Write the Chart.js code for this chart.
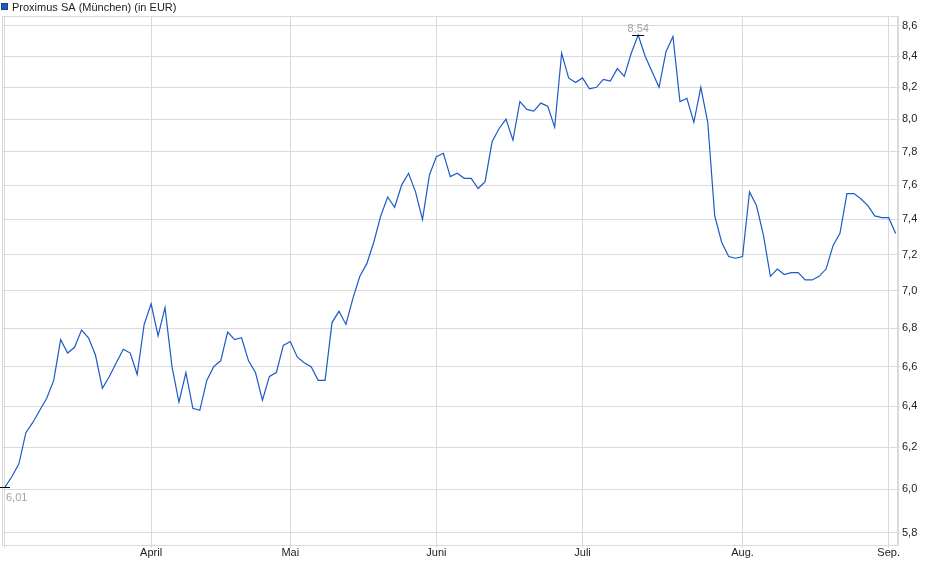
<!DOCTYPE html>
<html>
<head>
<meta charset="utf-8">
<script src="https://cdn.jsdelivr.net/npm/chart.js@4.4.1/dist/chart.umd.min.js"></script>
<style>
    html, body { margin: 0; padding: 0; background: #fff; }
    #wrap { width: 940px; height: 579px; }
</style>
</head>
<body>
<div id="wrap"><canvas id="kursChart" width="940" height="579"></canvas></div>
<script>
// Daten (Handelstage ab Anfang März bis Anfang September)
const serienName = 'Proximus SA (München) (in EUR)';
const kurse = [
    6.01, 6.06, 6.12, 6.27, 6.32, 6.38, 6.44, 6.53, 6.74, 6.67,
    6.70, 6.79, 6.75, 6.66, 6.49, 6.55, 6.62, 6.69, 6.67, 6.56,
    6.82, 6.93, 6.76, 6.91, 6.60, 6.42, 6.57, 6.39, 6.38, 6.53,
    6.60, 6.63, 6.78, 6.74, 6.75, 6.63, 6.57, 6.43, 6.55, 6.57,
    6.71, 6.73, 6.65, 6.62, 6.60, 6.53, 6.53, 6.83, 6.89, 6.82,
    6.96, 7.08, 7.15, 7.27, 7.42, 7.53, 7.47, 7.60, 7.67, 7.56,
    7.40, 7.66, 7.77, 7.79, 7.65, 7.67, 7.64, 7.64, 7.58, 7.62,
    7.86, 7.94, 8.00, 7.87, 8.11, 8.06, 8.05, 8.10, 8.08, 7.95,
    8.42, 8.26, 8.23, 8.26, 8.19, 8.20, 8.25, 8.24, 8.32, 8.27,
    8.42, 8.54, 8.40, 8.30, 8.20, 8.43, 8.53, 8.11, 8.13, 7.98,
    8.20, 7.98, 7.42, 7.27, 7.19, 7.18, 7.19, 7.56, 7.48, 7.31,
    7.08, 7.12, 7.09, 7.10, 7.10, 7.06, 7.06, 7.08, 7.12, 7.25,
    7.32, 7.55, 7.55, 7.52, 7.48, 7.42, 7.41, 7.41, 7.32
];
// Index des ersten Handelstages je Monat
const monatsIndex = [0, 21, 41, 62, 83, 106, 127];
const monatsLabels = ['', 'April', 'Mai', 'Juni', 'Juli', 'Aug.', 'Sep.'];
const yTicks = [5.8, 6.0, 6.2, 6.4, 6.6, 6.8, 7.0, 7.2, 7.4, 7.6, 7.8, 8.0, 8.2, 8.4, 8.6];

const gitterFarbe = '#dadada';
const linienFarbe = '#1c5ac8';
const schrift = '"Liberation Sans", Arial, sans-serif';

function formatKurs(v, stellen) {
    return v.toFixed(stellen).replace('.', ',');
}

// Rahmen, Legende und Hoch/Tief-Markierungen
const extrasPlugin = {
    id: 'extras',
    beforeDraw(chart) {
        const c = chart.ctx;
        c.save();
        c.fillStyle = '#fff';
        c.fillRect(0, 0, chart.width, chart.height);
        c.restore();
    },
    afterDraw(chart) {
        const c = chart.ctx;
        const a = chart.chartArea;
        const xs = chart.scales.x;
        const ys = chart.scales.y;
        c.save();
        // Rahmen
        c.strokeStyle = gitterFarbe;
        c.lineWidth = 1;
        c.strokeRect(Math.round(a.left) + 0.5, Math.round(a.top) + 0.5,
            Math.round(a.right - a.left) - 1, Math.round(a.bottom - a.top));

        // Legende
        c.fillStyle = '#1a5ac6';
        c.fillRect(1, 3, 7, 7);
        c.strokeStyle = '#1b3f86';
        c.strokeRect(1.5, 3.5, 6, 6);
        c.fillStyle = '#222';
        c.font = '11px ' + schrift;
        c.textBaseline = 'alphabetic';
        c.textAlign = 'left';
        c.fillText(serienName, 12, 10.5);

        // Hoch und Tief
        let iMax = 0, iMin = 0;
        kurse.forEach((v, i) => {
            if (v > kurse[iMax]) iMax = i;
            if (v < kurse[iMin]) iMin = i;
        });
        c.strokeStyle = '#000';
        c.fillStyle = '#a3a3a3';
        c.font = '11px ' + schrift;

        const xH = xs.getPixelForValue(iMax);
        const yH = Math.round(ys.getPixelForValue(kurse[iMax])) + 0.5;
        c.beginPath();
        c.moveTo(xH - 6, yH);
        c.lineTo(xH + 6, yH);
        c.stroke();
        c.textAlign = 'center';
        c.fillText(formatKurs(kurse[iMax], 2), xH, yH - 4);

        const xT = xs.getPixelForValue(iMin);
        const yT = Math.round(ys.getPixelForValue(kurse[iMin])) + 0.5;
        c.beginPath();
        c.moveTo(xT - 5, yT);
        c.lineTo(xT + 5, yT);
        c.stroke();
        c.textAlign = 'left';
        c.fillText(formatKurs(kurse[iMin], 2), xT + 1, yT + 13);
        c.restore();
    }
};

const ctx = document.getElementById('kursChart');
new Chart(ctx, {
    type: 'line',
    data: {
        datasets: [{
            label: serienName,
            data: kurse.map((v, i) => ({ x: i, y: v })),
            borderColor: linienFarbe,
            borderWidth: 1.2,
            pointRadius: 0,
            tension: 0,
            fill: false
        }]
    },
    options: {
        responsive: false,
        animation: false,
        devicePixelRatio: 1,
        layout: {
            padding: { top: 16, left: 2, right: 0, bottom: 0 }
        },
        plugins: {
            legend: { display: false },
            tooltip: { enabled: false }
        },
        scales: {
            x: {
                type: 'linear',
                min: -0.43,
                max: 128.34,
                afterBuildTicks: function(scale) {
                    scale.ticks = monatsIndex.map(v => ({ value: v }));
                },
                afterFit: function(scale) {
                    scale.height = 34;
                },
                grid: {
                    color: gitterFarbe,
                    tickLength: 3,
                    tickColor: gitterFarbe
                },
                border: { color: gitterFarbe },
                ticks: {
                    autoSkip: false,
                    maxRotation: 0,
                    padding: -2,
                    color: '#222',
                    font: { family: schrift, size: 11 },
                    callback: function(value) {
                        const k = monatsIndex.indexOf(value);
                        return k >= 0 ? monatsLabels[k] : '';
                    }
                }
            },
            y: {
                type: 'logarithmic',
                position: 'right',
                min: 5.746,
                max: 8.667,
                afterBuildTicks: function(scale) {
                    scale.ticks = yTicks.map(v => ({ value: v }));
                },
                afterFit: function(scale) {
                    scale.width = 42;
                },
                grid: {
                    color: gitterFarbe,
                    tickLength: 2,
                    tickColor: gitterFarbe
                },
                border: { color: gitterFarbe },
                ticks: {
                    padding: 2,
                    color: '#222',
                    font: { family: schrift, size: 11 },
                    callback: function(value) {
                        return formatKurs(value, 1);
                    }
                }
            }
        }
    },
    plugins: [extrasPlugin]
});
</script>
</body>
</html>
